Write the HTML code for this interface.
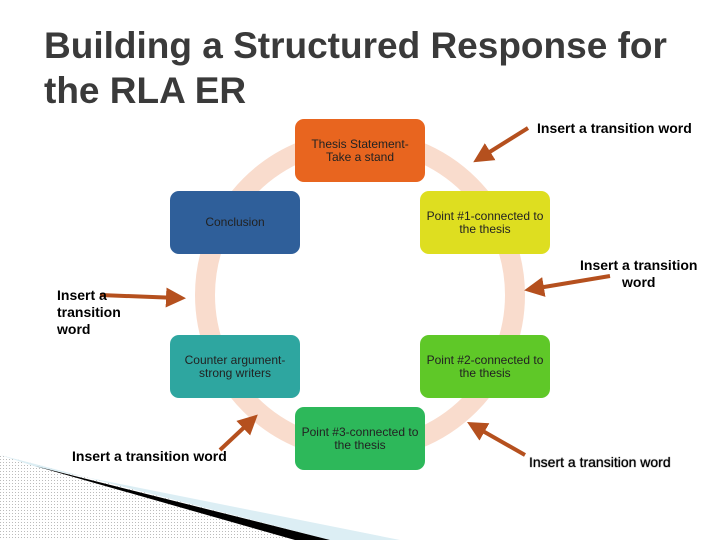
<!DOCTYPE html>
<html><head><style>
body{margin:0;width:720px;height:540px;overflow:hidden;background:#fff;font-family:"Liberation Sans",sans-serif;position:relative}
h1{position:absolute;left:44px;top:23px;margin:0;font-size:37px;font-weight:bold;color:#3a3a3a;line-height:45px}
.b{position:absolute;width:130px;height:63px;border-radius:9px;font-size:12px;color:#222;text-align:center;display:flex;align-items:center;justify-content:center;line-height:13px}
.t{position:absolute;font-size:14px;font-weight:bold;color:#000;line-height:17px}
</style></head><body>
<svg width="720" height="540" style="position:absolute;left:0;top:0">
<defs><pattern id="d" width="3" height="3" patternUnits="userSpaceOnUse"><rect width="3" height="3" fill="#fff"/><rect width="1" height="1" fill="#bbb"/></pattern>
<marker id="a" markerWidth="5" markerHeight="5" refX="3" refY="2.5" orient="auto"><path d="M0,0 L5,2.5 L0,5z" fill="#b5501e"/></marker></defs>
<circle cx="360" cy="295" r="155" fill="none" stroke="#f9dccd" stroke-width="20"/>
<polygon points="0,455 0,540 330,540" fill="url(#d)"/>
<polygon points="0,455 40,468 400,540 330,540" fill="#dceef4"/>
<polygon points="35,466 330,540 295,540" fill="#000"/>
<g stroke="#b5501e" stroke-width="4" marker-end="url(#a)">
<line x1="528" y1="128" x2="480" y2="158"/>
<line x1="100" y1="295" x2="178" y2="298"/>
<line x1="610" y1="276" x2="532" y2="289"/>
<line x1="220" y1="450" x2="252" y2="420"/>
<line x1="525" y1="455" x2="474" y2="426"/>
</g>
</svg>
<h1>Building a Structured Response for<br>the RLA ER</h1>
<div class="b" style="left:295px;top:119px;background:#e8651f">Thesis Statement-<br>Take a stand</div>
<div class="b" style="left:170px;top:191px;background:#2f5f9a">Conclusion</div>
<div class="b" style="left:420px;top:191px;background:#dede20">Point #1-connected to<br>the thesis</div>
<div class="b" style="left:170px;top:335px;background:#2ea6a0">Counter argument-<br>strong writers</div>
<div class="b" style="left:420px;top:335px;background:#5fc828">Point #2-connected to<br>the thesis</div>
<div class="b" style="left:295px;top:407px;background:#2db85a;align-items:flex-start"><div style="margin-top:19px">Point #3-connected to<br>the thesis</div></div>
<div class="t" style="left:537px;top:120px">Insert a transition word</div>
<div class="t" style="left:580px;top:257px;text-align:center">Insert a transition<br>word</div>
<div class="t" style="left:57px;top:287px">Insert a<br>transition<br>word</div>
<div class="t" style="left:72px;top:448px">Insert a transition word</div>
<div class="t" style="left:529px;top:454px;font-weight:normal;text-shadow:0 0 1px #000">Insert a transition word</div>
</body></html>
